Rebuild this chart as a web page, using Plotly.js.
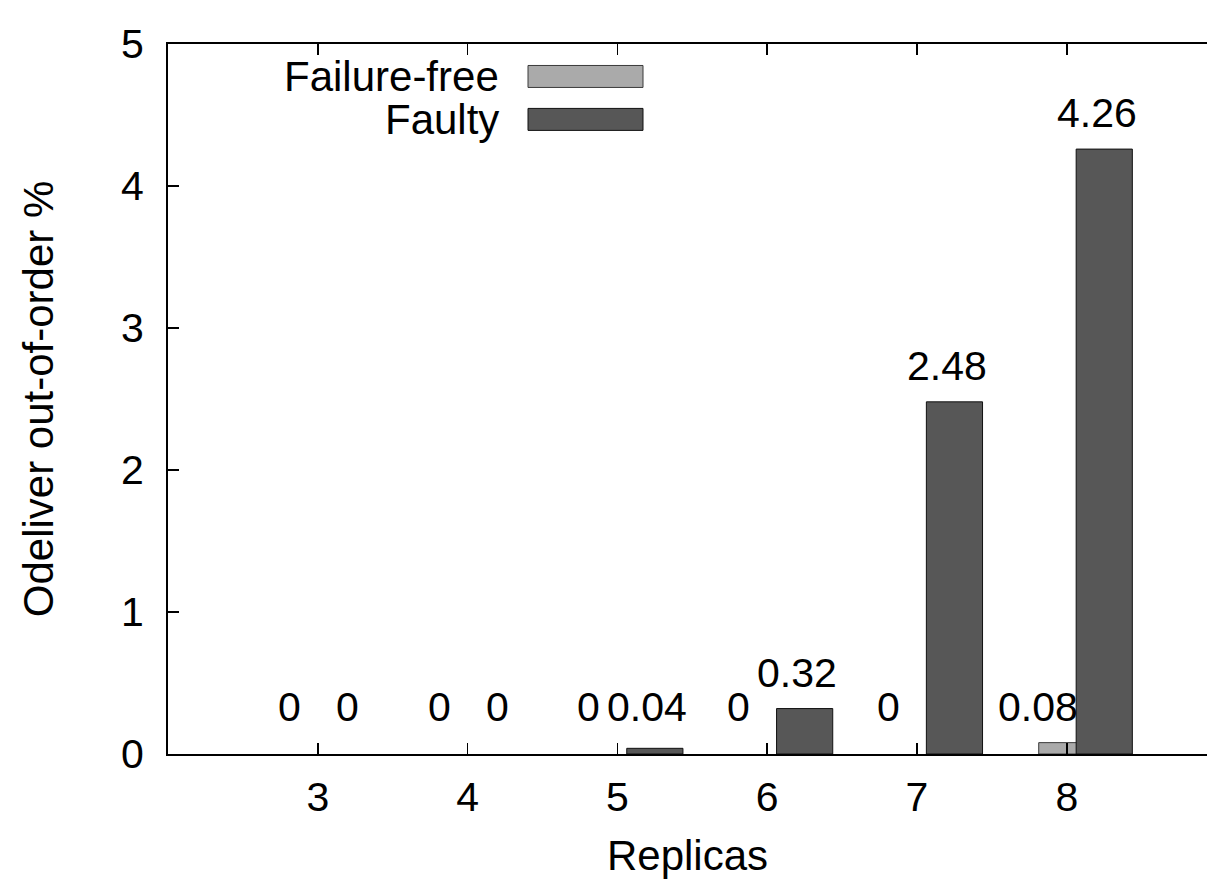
<!DOCTYPE html>
<html>
<head>
<meta charset="utf-8">
<script src="https://cdn.plot.ly/plotly-3.0.1.min.js"></script>
<style>
html,body{margin:0;padding:0;background:#fff;overflow:hidden;}
#chart{width:1207px;height:879px;}
</style>
</head>
<body>
<div id="chart"></div>
<script>
// ---- data ----
var replicas = [3, 4, 5, 6, 7, 8];
var failureFree = [0, 0, 0, 0, 0, 0.08];
var faulty = [0, 0, 0.04, 0.32, 2.48, 4.26];
var seriesNames = ['Failure-free', 'Faulty'];
var tickLabels = ['3', '4', '5', '6', '7', '8'];

// ---- style ----
var FONT = 'Liberation Sans, Arial, Helvetica, sans-serif';
var FS = 41;
var FT = 42;
var colFF = '#aaaaaa';
var colFa = '#575757';
var barW = 0.375;

function lineWidths(arr) { return arr.map(function (v) { return v > 0 ? 1 : 0; }); }

var traces = [
  {
    type: 'bar', name: seriesNames[0], x: replicas, y: failureFree,
    width: barW, offset: -barW / 2,
    marker: {color: colFF, line: {color: '#3a3a3a', width: lineWidths(failureFree)}},
    hoverinfo: 'x+y'
  },
  {
    type: 'bar', name: seriesNames[1], x: replicas, y: faulty,
    width: barW, offset: 0.25 - barW / 2,
    marker: {color: colFa, line: {color: '#111111', width: lineWidths(faulty)}},
    hoverinfo: 'x+y'
  }
];

function fmt(v) { return String(v); }

var annotations = [];
replicas.forEach(function (r, i) {
  annotations.push({
    x: r - 0.19, y: Math.max(failureFree[i], 0.08), xref: 'x', yref: 'y',
    text: fmt(failureFree[i]), showarrow: false, xanchor: 'center', yanchor: 'bottom',
    yshift: 11, font: {family: FONT, size: FS, color: '#000'}
  });
  annotations.push({
    x: r + 0.2, y: Math.max(faulty[i], 0.08), xref: 'x', yref: 'y',
    text: fmt(faulty[i]), showarrow: false, xanchor: 'center', yanchor: 'bottom',
    yshift: 11, font: {family: FONT, size: FS, color: '#000'}
  });
});

// custom legend (text left of swatch)
var legendRows = [
  {name: seriesNames[0], color: colFF, line: '#3a3a3a', yc: 76},
  {name: seriesNames[1], color: colFa, line: '#111111', yc: 119}
];
var H = 879, W = 1207, mL = 168, mR = 0, mT = 43.5, mB = 124.5;
var pw = W - mL - mR, ph = H - mT - mB;
function px2paperX(px) { return (px - mL) / pw; }
function px2paperY(py) { return 1 - (py - mT) / ph; }

var shapes = [];
legendRows.forEach(function (row) {
  annotations.push({
    xref: 'paper', yref: 'paper', x: px2paperX(501), y: px2paperY(row.yc),
    xanchor: 'right', yanchor: 'middle', showarrow: false, text: row.name,
    font: {family: FONT, size: FT, color: '#000'}
  });
  shapes.push({
    type: 'rect', xref: 'paper', yref: 'paper',
    x0: px2paperX(528), x1: px2paperX(643),
    y0: px2paperY(row.yc - 11), y1: px2paperY(row.yc + 11),
    fillcolor: row.color, line: {color: row.line, width: 1}
  });
});

var layout = {
  width: W, height: H,
  margin: {l: mL, r: mR, t: mT, b: mB, pad: 0},
  paper_bgcolor: '#fff', plot_bgcolor: '#fff',
  barmode: 'overlay',
  showlegend: false,
  font: {family: FONT, size: FS, color: '#000'},
  xaxis: {
    range: [2, 2 + pw / 149.8],
    tickmode: 'array', tickvals: replicas, ticktext: tickLabels,
    ticks: 'inside', ticklen: 11, tickwidth: 1.5, tickcolor: '#000',
    showline: true, linecolor: '#000', linewidth: 2, mirror: 'ticks',
    showgrid: false, zeroline: false,
    tickfont: {family: FONT, size: FS, color: '#000'},
    ticklabelstandoff: 6,
    title: {text: 'Replicas', font: {family: FONT, size: FT, color: '#000'}, standoff: 31}
  },
  yaxis: {
    range: [0, 5],
    tickmode: 'array', tickvals: [0, 1, 2, 3, 4, 5],
    ticks: 'inside', ticklen: 11, tickwidth: 1.5, tickcolor: '#000',
    showline: true, linecolor: '#000', linewidth: 2, mirror: false,
    showgrid: false, zeroline: false,
    tickfont: {family: FONT, size: FS, color: '#000'},
    ticklabelstandoff: 14,
    title: {text: 'Odeliver out-of-order %', font: {family: FONT, size: FT, color: '#000'}, standoff: 54}
  },
  annotations: annotations,
  shapes: shapes
};

Plotly.newPlot('chart', traces, layout, {staticPlot: true, displayModeBar: false});
</script>
</body>
</html>
